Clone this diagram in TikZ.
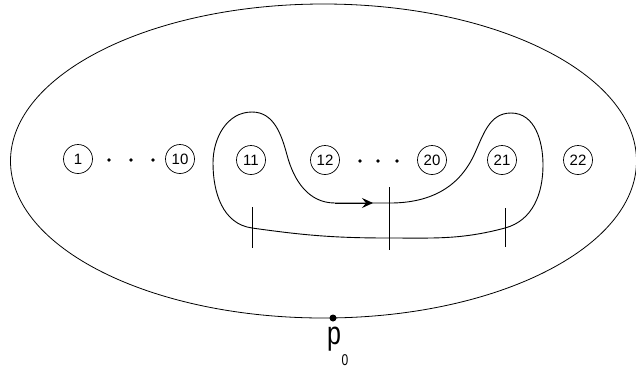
\documentclass[tikz,border=0pt]{standalone}
\usepackage{fontspec}
\setmainfont{Liberation Sans}
\usetikzlibrary{arrows.meta}
\begin{document}
\begin{tikzpicture}[x=1pt,y=-1pt,line width=0.9pt,
  puncture/.style={circle,draw,line width=0.7pt,minimum size=29pt,inner sep=0pt,font=\fontsize{15}{17}\selectfont},
  smalldot/.style={circle,fill,inner sep=0pt,minimum size=3.8pt},
  tick/.style={line width=0.9pt}]
\useasboundingbox (0,0) rectangle (636,368);
% outer disk
\draw[line width=0.8pt] (323.5,161) ellipse [x radius=313pt, y radius=157pt];
% punctures
\node[puncture] (c1)  at (78,159)  {1};
\node[puncture] (c10) at (180,159) {10};
\node[puncture] (c11) at (251,160) {11};
\node[puncture] (c12) at (325,160) {12};
\node[puncture] (c20) at (432,160) {20};
\node[puncture] (c21) at (502,160) {21};
\node[puncture] (c22) at (578,160) {22};
% dots
\node[smalldot] (d1) at (109,160) {};
\node[smalldot] (d2) at (131,160) {};
\node[smalldot] (d3) at (153,160) {};
\node[smalldot] (d4) at (360,161) {};
\node[smalldot] (d5) at (378,161) {};
\node[smalldot] (d6) at (397,161) {};
% loop coordinates
\coordinate (A) at (252,112);
\coordinate (B) at (287,155);
\coordinate (K) at (335,203);
\coordinate (J) at (390,203);
\coordinate (H) at (474,155);
\coordinate (G) at (511,113);
\coordinate (F) at (543,165);
\coordinate (E) at (505,228);
\coordinate (D) at (389,238);
\coordinate (C) at (252,228);
\coordinate (L) at (213,163);
\draw (A) to[out=0,in=105] (B) to[out=-75,in=180] (K) -- (J)
  to[out=0,in=245] (H) to[out=65,in=180] (G) to[out=0,in=90] (F)
  to[out=270,in=15] (E) to[out=195,in=0] (D) to[out=180,in=-8] (C)
  to[out=172,in=270] (L) to[out=90,in=180] (A);
\coordinate (tip) at (373,203);
\draw[-{Stealth[length=11pt,width=10pt,inset=4pt]}] (K) -- (tip);
% ticks
\coordinate (t1a) at (252,207); \coordinate (t1b) at (252,248);
\coordinate (t2a) at (389,187); \coordinate (t2b) at (389,250);
\coordinate (t3a) at (505,208); \coordinate (t3b) at (505,247);
\draw[tick] (t1a) -- (t1b);
\draw[tick] (t2a) -- (t2b);
\draw[tick] (t3a) -- (t3b);
% base point
\node[circle,fill,inner sep=0pt,minimum size=7pt] (p0) at (333,318) {};
\node[yscale=1.3,font=\fontsize{25}{26}\selectfont,inner sep=0pt] (plabel) at (334,339) {p};
\node[yscale=1.3,font=\fontsize{12}{13}\selectfont,inner sep=0pt] (sub) at (345,360) {0};
\end{tikzpicture}
\end{document}
